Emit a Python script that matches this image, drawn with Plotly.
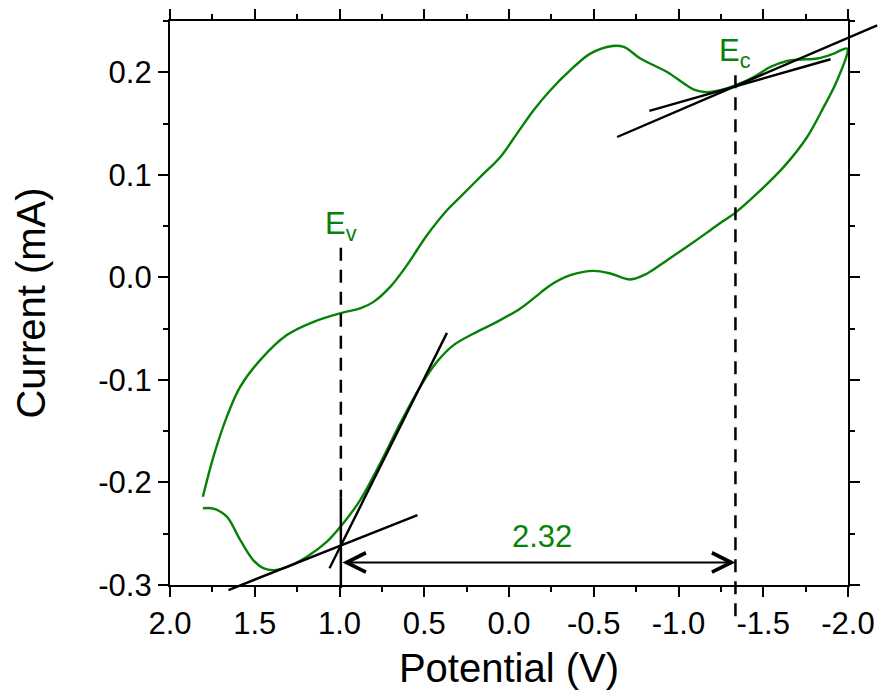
import plotly.graph_objects as go

# ---------------- data ----------------
# forward (lower) branch: from +1.8 V to -2.0 V
LOWER_E = [1.806, 1.744, 1.665, 1.586, 1.508, 1.450, 1.390, 1.311, 1.192, 1.074, 0.986,
           0.878, 0.760, 0.642, 0.524, 0.425, 0.327, 0.181, 0.071, -0.067, -0.185,
           -0.244, -0.362, -0.499, -0.598, -0.716, -0.815, -0.933, -1.090, -1.188,
           -1.247, -1.336, -1.464, -1.621, -1.759, -1.857, -1.936, -1.995]
LOWER_I = [-0.2252, -0.2255, -0.2334, -0.2561, -0.2760, -0.2835, -0.2855, -0.2825, -0.2724,
           -0.2578, -0.2415, -0.2172, -0.1814, -0.1424, -0.1067, -0.0824, -0.0661,
           -0.0524, -0.0434, -0.0303, -0.0151, -0.0076, 0.0021, 0.0063, 0.0038,
           -0.0021, 0.0038, 0.0168, 0.0345, 0.0460, 0.0530, 0.0631, 0.0818, 0.1077,
           0.1369, 0.1662, 0.1922, 0.2231]
# reverse (upper) branch: from -2.0 V back to +1.8 V
UPPER_E = [-1.995, -1.916, -1.818, -1.720, -1.641, -1.543, -1.444, -1.336, -1.247,
           -1.188, -1.149, -1.100, -1.050, -0.933, -0.854, -0.775, -0.677, -0.610,
           -0.480, -0.362, -0.244, -0.145, -0.047, 0.051, 0.169, 0.287, 0.366, 0.484,
           0.602, 0.701, 0.799, 0.878, 0.986, 1.153, 1.311, 1.468, 1.586, 1.665,
           1.744, 1.806]
UPPER_I = [0.2231, 0.2182, 0.2134, 0.2124, 0.2110, 0.2052, 0.1954, 0.1873, 0.1825,
           0.1808, 0.1808, 0.1825, 0.1870, 0.2003, 0.2068, 0.2134, 0.2247, 0.2256,
           0.2182, 0.2020, 0.1825, 0.1630, 0.1402, 0.1174, 0.0980, 0.0785, 0.0655,
           0.0411, 0.0119, -0.0093, -0.0239, -0.0303, -0.0346, -0.0434, -0.0563,
           -0.0807, -0.1067, -0.1360, -0.1750, -0.2139]

# band-edge markers
EV_X = 0.992
EC_X = -1.336
EV_TOP = 0.029
EV_SOLID_TOP = -0.215
EC_TOP = 0.197
ARROW_Y = -0.278
GAP_LABEL = "2.32"
GAP_LABEL_X = -0.195
GAP_LABEL_Y = -0.2525

# tangent lines (x0, y0, x1, y1)
EV_STEEP = (1.059, -0.2837, 0.366, -0.0541)
EV_SHALLOW = (1.655, -0.3049, 0.540, -0.2318)
EC_STEEP = (-0.638, 0.1369, -2.172, 0.2458)
EC_SHALLOW = (-0.828, 0.1623, -1.897, 0.2127)

X_RANGE = [2.0, -2.0]
Y_RANGE = [-0.3, 0.25]
X_TICKS = [2.0, 1.5, 1.0, 0.5, 0.0, -0.5, -1.0, -1.5, -2.0]
X_TICK_LABELS = ["2.0", "1.5", "1.0", "0.5", "0.0", "-0.5", "-1.0", "-1.5", "-2.0"]
Y_TICKS = [-0.3, -0.2, -0.1, 0.0, 0.1, 0.2]
Y_TICK_LABELS = ["-0.3", "-0.2", "-0.1", "0.0", "0.1", "0.2"]

GREEN = "#078207"
FONT = "Arial, Liberation Sans, sans-serif"


def xpaper(v):
    return (v - X_RANGE[0]) / (X_RANGE[1] - X_RANGE[0])


def ypaper(v):
    return (v - Y_RANGE[0]) / (Y_RANGE[1] - Y_RANGE[0])


fig = go.Figure()
fig.add_trace(go.Scatter(x=LOWER_E + UPPER_E[1:], y=LOWER_I + UPPER_I[1:],
                         mode="lines", line=dict(color=GREEN, width=2.4, shape="spline", smoothing=1.0),
                         showlegend=False, hoverinfo="skip"))

shapes = []
# tangents (unclipped: paper coordinates derived from data values)
for (x0, y0, x1, y1) in [EV_STEEP, EV_SHALLOW, EC_STEEP, EC_SHALLOW]:
    shapes.append(dict(type="line", xref="paper", yref="paper",
                       x0=xpaper(x0), y0=ypaper(y0), x1=xpaper(x1), y1=ypaper(y1),
                       line=dict(color="black", width=2.4)))
# Ev vertical
shapes.append(dict(type="line", xref="x", yref="y", x0=EV_X, x1=EV_X, y0=EV_TOP, y1=EV_SOLID_TOP,
                   line=dict(color="black", width=2.5, dash="13px,9px")))
shapes.append(dict(type="line", xref="paper", yref="paper", x0=xpaper(EV_X), x1=xpaper(EV_X),
                   y0=ypaper(EV_SOLID_TOP), y1=ypaper(-0.303),
                   line=dict(color="black", width=2.5)))
# Ec vertical (extends below the axis)
shapes.append(dict(type="line", xref="paper", yref="paper", x0=xpaper(EC_X), x1=xpaper(EC_X),
                   y0=ypaper(EC_TOP), y1=ypaper(-0.336),
                   line=dict(color="black", width=2.5, dash="13px,9px")))
fig.update_layout(shapes=shapes)

# double arrow
fig.add_annotation(x=EC_X, y=ARROW_Y, ax=EV_X, ay=ARROW_Y, xref="x", yref="y",
                   axref="x", ayref="y", text="", showarrow=True,
                   arrowhead=5, startarrowhead=5, arrowside="end+start",
                   arrowwidth=2, arrowsize=1.9, startarrowsize=1.9, arrowcolor="black",
                   standoff=0, startstandoff=0)
fig.add_annotation(x=GAP_LABEL_X, y=GAP_LABEL_Y, xref="x", yref="y", text=GAP_LABEL,
                   showarrow=False, font=dict(color=GREEN, size=31, family=FONT),
                   xanchor="center", yanchor="middle")
fig.add_annotation(x=EV_X, y=EV_TOP, xref="x", yref="y", text="E<sub>v</sub>",
                   showarrow=False, font=dict(color=GREEN, size=31, family=FONT),
                   xanchor="center", yanchor="bottom")
fig.add_annotation(x=EC_X, y=EC_TOP, xref="x", yref="y", text="E<sub>c</sub>",
                   showarrow=False, font=dict(color=GREEN, size=31, family=FONT),
                   xanchor="center", yanchor="bottom")

axis_common = dict(showline=True, linecolor="black", linewidth=2.3, mirror="allticks",
                   ticks="outside", ticklen=10, tickwidth=2, tickcolor="black",
                   showgrid=False, zeroline=False, automargin=False,
                   tickfont=dict(size=31, family=FONT, color="black"))

fig.update_xaxes(range=X_RANGE, tickmode="array", tickvals=X_TICKS, ticktext=X_TICK_LABELS,
                 minor=dict(tickmode="linear", tick0=0, dtick=0.25, ticklen=5, tickwidth=2,
                            ticks="outside", tickcolor="black"),
                 title=dict(text="Potential (V)", font=dict(size=40, family=FONT, color="black"),
                            standoff=14),
                 **axis_common)
fig.update_yaxes(range=Y_RANGE, tickmode="array", tickvals=Y_TICKS, ticktext=Y_TICK_LABELS,
                 minor=dict(tickmode="linear", tick0=0, dtick=0.05, ticklen=5, tickwidth=2,
                            ticks="outside", tickcolor="black"),
                 title=dict(text="Current (mA)", font=dict(size=40, family=FONT, color="black"),
                            standoff=40),
                 **axis_common)

fig.update_layout(width=881, height=698, margin=dict(l=170, r=33, t=21, b=113),
                  plot_bgcolor="white", paper_bgcolor="white",
                  font=dict(family=FONT, color="black"))

fig.write_html("out.html")
